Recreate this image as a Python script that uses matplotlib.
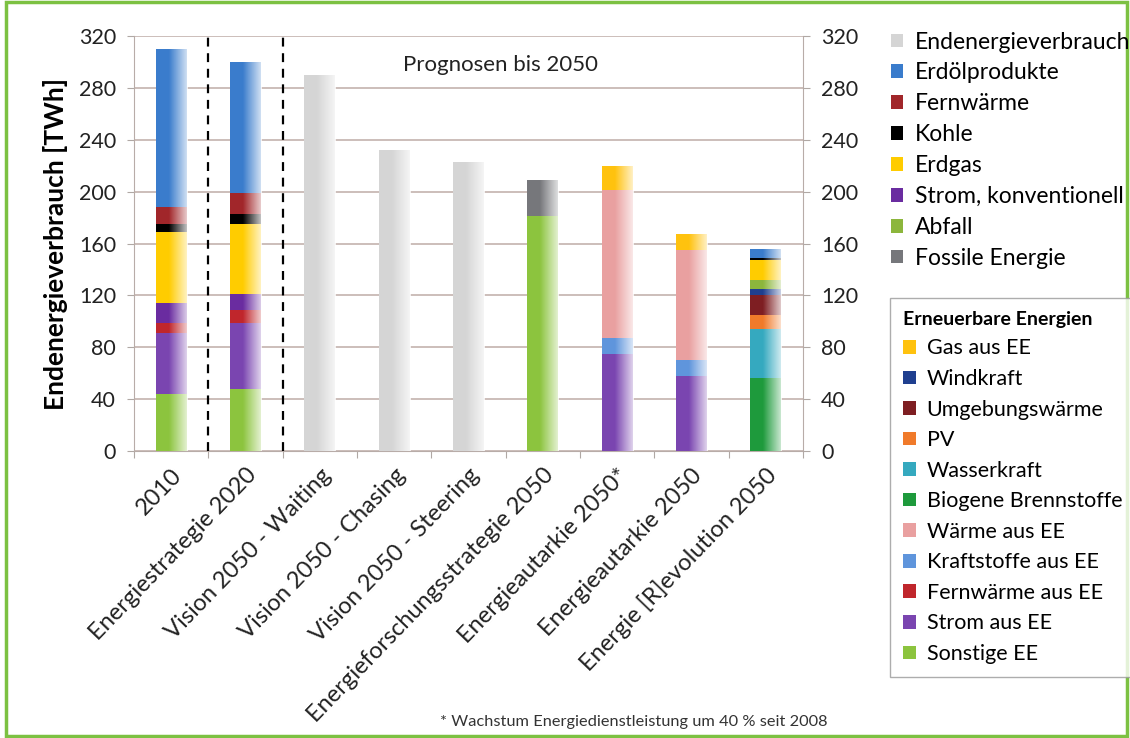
import matplotlib
matplotlib.use("Agg")
import matplotlib.pyplot as plt
import numpy as np
from matplotlib.patches import Patch, Rectangle

plt.rcParams['font.family'] = ['Lato', 'DejaVu Sans']

# ---------------- data ----------------
categories = ['2010', 'Energiestrategie 2020', 'Vision 2050 - Waiting',
              'Vision 2050 - Chasing', 'Vision 2050 - Steering',
              'Energieforschungsstrategie 2050', 'Energieautarkie 2050*',
              'Energieautarkie 2050', 'Energie [R]evolution 2050']

endenergie   = [0, 0, 290, 232, 223, 0, 0, 0, 0]
biogene      = [0, 0, 0, 0, 0, 0, 0, 0, 56]
sonstige_ee  = [44, 48, 0, 0, 0, 181, 0, 0, 0]
strom_ee     = [47, 51, 0, 0, 0, 0, 75, 58, 0]
wasserkraft  = [0, 0, 0, 0, 0, 0, 0, 0, 38]
pv           = [0, 0, 0, 0, 0, 0, 0, 0, 11]
umgebung     = [0, 0, 0, 0, 0, 0, 0, 0, 15]
windkraft    = [0, 0, 0, 0, 0, 0, 0, 0, 5]
kraftstoffe  = [0, 0, 0, 0, 0, 0, 12, 12, 0]
fernw_ee     = [8, 10, 0, 0, 0, 0, 0, 0, 0]
waerme_ee    = [0, 0, 0, 0, 0, 0, 114, 85, 0]
abfall       = [0, 0, 0, 0, 0, 0, 0, 0, 7]
strom_konv   = [15, 12, 0, 0, 0, 0, 0, 0, 0]
gas_ee       = [0, 0, 0, 0, 0, 0, 19, 12, 0]
erdgas       = [55, 54, 0, 0, 0, 0, 0, 0, 15]
kohle        = [6, 8, 0, 0, 0, 0, 0, 0, 2]
fernwaerme   = [13, 16, 0, 0, 0, 0, 0, 0, 0]
erdoel       = [122, 101, 0, 0, 0, 0, 0, 0, 7]
fossil       = [0, 0, 0, 0, 0, 28, 0, 0, 0]

yticks = [0, 40, 80, 120, 160, 200, 240, 280, 320]

# stacking order bottom -> top
stack = [
    ('Endenergieverbrauch', endenergie, '#d5d5d5'),
    ('Biogene Brennstoffe', biogene, '#1e9a3c'),
    ('Sonstige EE', sonstige_ee, '#8cc43e'),
    ('Strom aus EE', strom_ee, '#7a45b0'),
    ('Wasserkraft', wasserkraft, '#35a9bf'),
    ('PV', pv, '#f07a2a'),
    ('Umgebungswärme', umgebung, '#7e1e22'),
    ('Windkraft', windkraft, '#1f3f8f'),
    ('Kraftstoffe aus EE', kraftstoffe, '#5f95dc'),
    ('Fernwärme aus EE', fernw_ee, '#c0262c'),
    ('Wärme aus EE', waerme_ee, '#e9a0a0'),
    ('Abfall', abfall, '#8cb63c'),
    ('Strom, konventionell', strom_konv, '#6a2ca0'),
    ('Gas aus EE', gas_ee, '#ffc20e'),
    ('Erdgas', erdgas, '#ffcc00'),
    ('Kohle', kohle, '#000000'),
    ('Fernwärme', fernwaerme, '#a1262a'),
    ('Erdölprodukte', erdoel, '#3a7ccc'),
    ('Fossile Energie', fossil, '#76777b'),
]
colors = {name: c for name, _, c in stack}

legend1_names = ['Endenergieverbrauch', 'Erdölprodukte', 'Fernwärme', 'Kohle',
                 'Erdgas', 'Strom, konventionell', 'Abfall', 'Fossile Energie']
legend2_names = ['Gas aus EE', 'Windkraft', 'Umgebungswärme', 'PV', 'Wasserkraft',
                 'Biogene Brennstoffe', 'Wärme aus EE', 'Kraftstoffe aus EE',
                 'Fernwärme aus EE', 'Strom aus EE', 'Sonstige EE']

# ---------------- figure ----------------
W, H = 1130, 738
fig = plt.figure(figsize=(W / 100, H / 100), dpi=100)
fig.patch.set_facecolor('white')

left, right, top, bottom = 134, 803, 36, 451
ax = fig.add_axes([left / W, 1 - bottom / H, (right - left) / W, (bottom - top) / H])

x = np.arange(len(categories))
bw = 0.42
base = np.zeros(len(categories))
grad = np.zeros((1, 64, 4))
t = np.linspace(0, 1, 64)
grad[0, :, :3] = 1.0
grad[0, :, 3] = np.clip((t - 0.4) / 0.6, 0, 1) * 0.8

for name, vals, col in stack:
    vals = np.array(vals, dtype=float)
    bars = ax.bar(x, vals, bw, bottom=base, color=col, linewidth=0, zorder=3)
    for p in bars:
        if p.get_height() <= 0:
            continue
        x0, y0 = p.get_x(), p.get_y()
        im = ax.imshow(grad, extent=(x0, x0 + p.get_width(), y0, y0 + p.get_height()),
                       aspect='auto', zorder=4, interpolation='bilinear')
        im.set_clip_path(p)
    base += vals

ax.set_xlim(-0.5, len(categories) - 0.5)
ax.set_ylim(0, 320)
ax.set_yticks(yticks)
ax.set_yticklabels([str(v) for v in yticks], fontsize=15.5, color='#222222')
ax.yaxis.grid(True, color='#c4b3ae', linewidth=1.2, zorder=0)
ax.set_axisbelow(True)
ax.tick_params(axis='y', length=5, color='#b0a8a4', pad=8)
ax.set_xticks(np.arange(len(categories) + 1) - 0.5, minor=False)
ax.set_xticklabels([])
ax.tick_params(axis='x', length=5, color='#b0a8a4')
for i, lab in enumerate(categories):
    ax.text(i + 0.1, -16, lab, rotation=46, rotation_mode='anchor', ha='right', va='center',
            fontsize=17, color='#222222')
for s in ['left', 'right', 'bottom', 'top']:
    ax.spines[s].set_color('#b8aca8')
ax.spines['top'].set_visible(False)

ax.set_ylabel('Endenergieverbrauch [TWh]', fontsize=19, fontweight='bold', labelpad=8)

ax2 = ax.twinx()
ax2.set_ylim(0, 320)
ax2.set_yticks(yticks)
ax2.set_yticklabels([str(v) for v in yticks], fontsize=15.5, color='#222222')
ax2.tick_params(axis='y', length=5, color='#b0a8a4', pad=8)
for s in ['left', 'right', 'bottom', 'top']:
    ax2.spines[s].set_visible(False)

# dashed separators
for xv in [0.5, 1.5]:
    ax.axvline(xv, color='black', linestyle=(0, (4, 3)), linewidth=1.6, zorder=5)

ax.text(4.43, 298, 'Prognosen bis 2050', ha='center', va='center', fontsize=16, color='#222222')

# legends
h1 = [Patch(facecolor=colors[n]) for n in legend1_names]
leg1 = fig.legend(h1, legend1_names, loc='upper left', bbox_to_anchor=(886 / W, 1 - 27 / H),
                  frameon=False, fontsize=16.5, handlelength=0.55, handleheight=0.55,
                  handletextpad=0.5, labelspacing=0.43, borderaxespad=0, borderpad=0.2)
h2 = [Patch(facecolor=colors[n]) for n in legend2_names]
leg2 = fig.legend(h2, legend2_names, loc='upper left', bbox_to_anchor=(890 / W, 1 - 298 / H),
                  frameon=True, fancybox=False, edgecolor='#999999', fontsize=15.5,
                  title='Erneuerbare Energien', title_fontproperties={'weight': 'bold', 'size': 14},
                  alignment='left', handlelength=0.6, handleheight=0.6,
                  handletextpad=0.5, labelspacing=0.49, borderaxespad=0, borderpad=0.6)
leg2.get_frame().set_linewidth(1.0)

fig.text(440 / W, 1 - 722 / H, '* Wachstum Energiedienstleistung um 40 % seit 2008',
         fontsize=11.8, color='#333333', va='center', ha='left')

# green outer frame
fig.patches.append(Rectangle((6 / W, 2 / H), 1121 / W, 734 / H, transform=fig.transFigure,
                             fill=False, edgecolor='#7cc142', linewidth=2.5))

fig.savefig('out.png', dpi=100)
